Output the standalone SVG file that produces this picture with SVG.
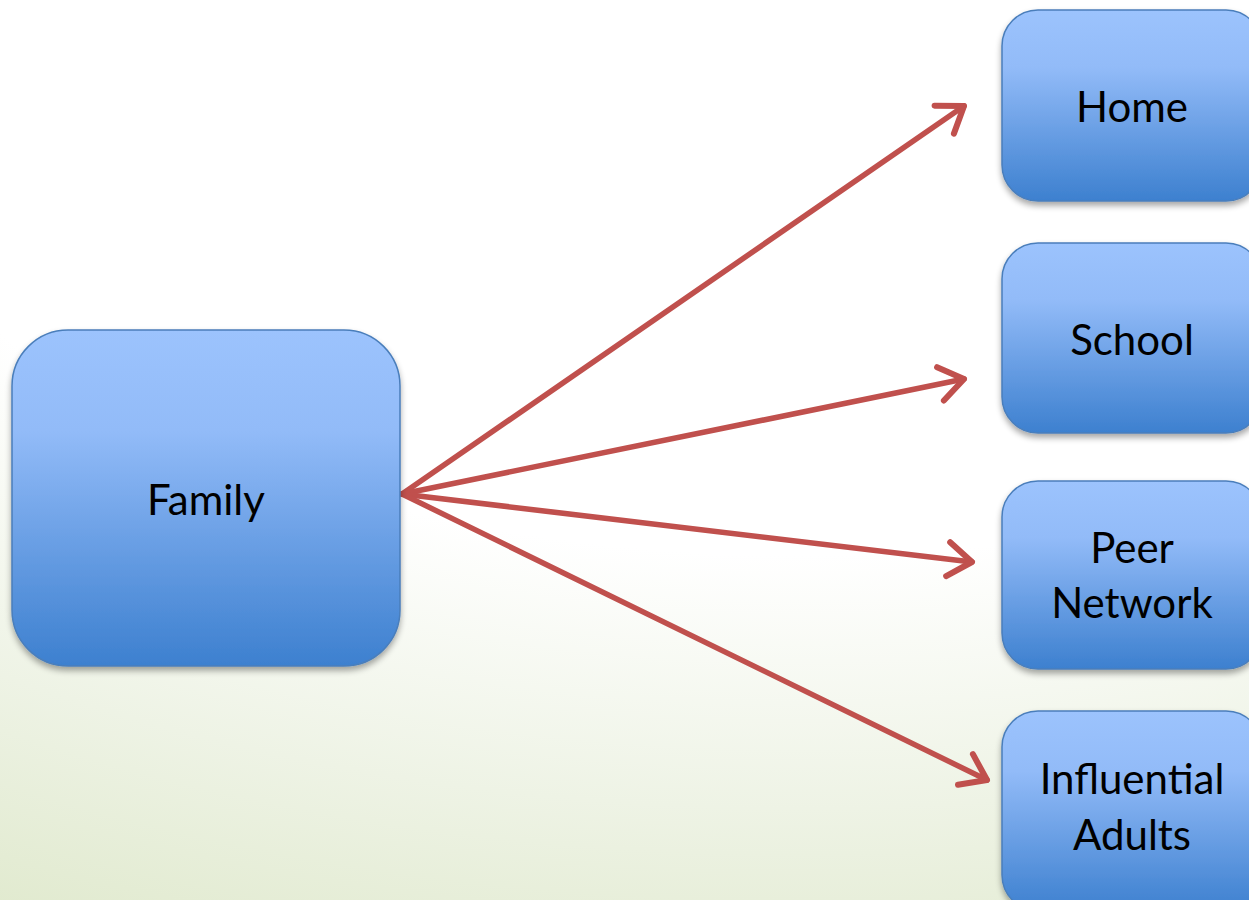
<svg xmlns="http://www.w3.org/2000/svg" width="1249" height="900" viewBox="0 0 1249 900">
<defs>
<radialGradient id="bg" gradientUnits="userSpaceOnUse" cx="0" cy="0" r="1" gradientTransform="translate(800 0) scale(1.8 1)">
<stop offset="0" stop-color="#ffffff"/>
</radialGradient>
<radialGradient id="bg2" gradientUnits="userSpaceOnUse" cx="0" cy="0" r="1010" gradientTransform="translate(800 0) scale(1.8 1)">
<stop offset="0.55" stop-color="#ffffff"/>
<stop offset="0.8" stop-color="#eef3e5"/>
<stop offset="1" stop-color="#e1eacf"/>
</radialGradient>
<linearGradient id="box" x1="0" y1="0" x2="0" y2="1">
<stop offset="0" stop-color="#9cc3fd"/>
<stop offset="0.3" stop-color="#92bbf8"/>
<stop offset="1" stop-color="#3d80cf"/>
</linearGradient>
<filter id="sh" x="-10%" y="-10%" width="120%" height="125%">
<feGaussianBlur in="SourceAlpha" stdDeviation="3"/>
<feOffset dx="0" dy="4"/>
<feComponentTransfer><feFuncA type="linear" slope="0.35"/></feComponentTransfer>
<feMerge><feMergeNode/><feMergeNode in="SourceGraphic"/></feMerge>
</filter>
<marker id="arr" markerUnits="userSpaceOnUse" viewBox="-40 -25 50 50" refX="0" refY="0" markerWidth="50" markerHeight="50" orient="auto">
<path d="M-24,-17 L0,0 L-24,17" fill="none" stroke="#c0504d" stroke-width="6" stroke-linecap="round" stroke-linejoin="round"/>
</marker>
</defs>
<style>
.node rect{fill:url(#box);stroke:#4a7ebb;stroke-width:1.5;filter:url(#sh)}
.node text{font-family:Lato,"Open Sans","Liberation Sans",sans-serif;font-size:42px;fill:#000;text-anchor:middle}
.conn line{stroke:#c0504d;stroke-width:5.5;stroke-linecap:round;marker-end:url(#arr)}
</style>
<rect x="0" y="0" width="1249" height="900" fill="url(#bg2)"/>
<g id="connectors" class="conn">
<line x1="402" y1="494" x2="964" y2="106"/>
<line x1="402" y1="494" x2="964" y2="379"/>
<line x1="402" y1="494" x2="972" y2="562"/>
<line x1="402" y1="494" x2="987" y2="780"/>
</g>
<g id="family" class="node">
<rect x="12" y="330" width="388" height="336" rx="56"/>
<text x="206" y="515">Family</text>
</g>
<g id="home" class="node">
<rect x="1002" y="10" width="260" height="191" rx="36"/>
<text x="1132" y="122">Home</text>
</g>
<g id="school" class="node">
<rect x="1002" y="243" width="260" height="190" rx="36"/>
<text x="1132" y="355">School</text>
</g>
<g id="peer" class="node">
<rect x="1002" y="481" width="260" height="188" rx="36"/>
<text x="1132" y="563">Peer</text>
<text x="1132" y="618">Network</text>
</g>
<g id="adults" class="node">
<rect x="1002" y="711" width="260" height="200" rx="36"/>
<text x="1132" y="794">Influential</text>
<text x="1132" y="850">Adults</text>
</g>
</svg>
